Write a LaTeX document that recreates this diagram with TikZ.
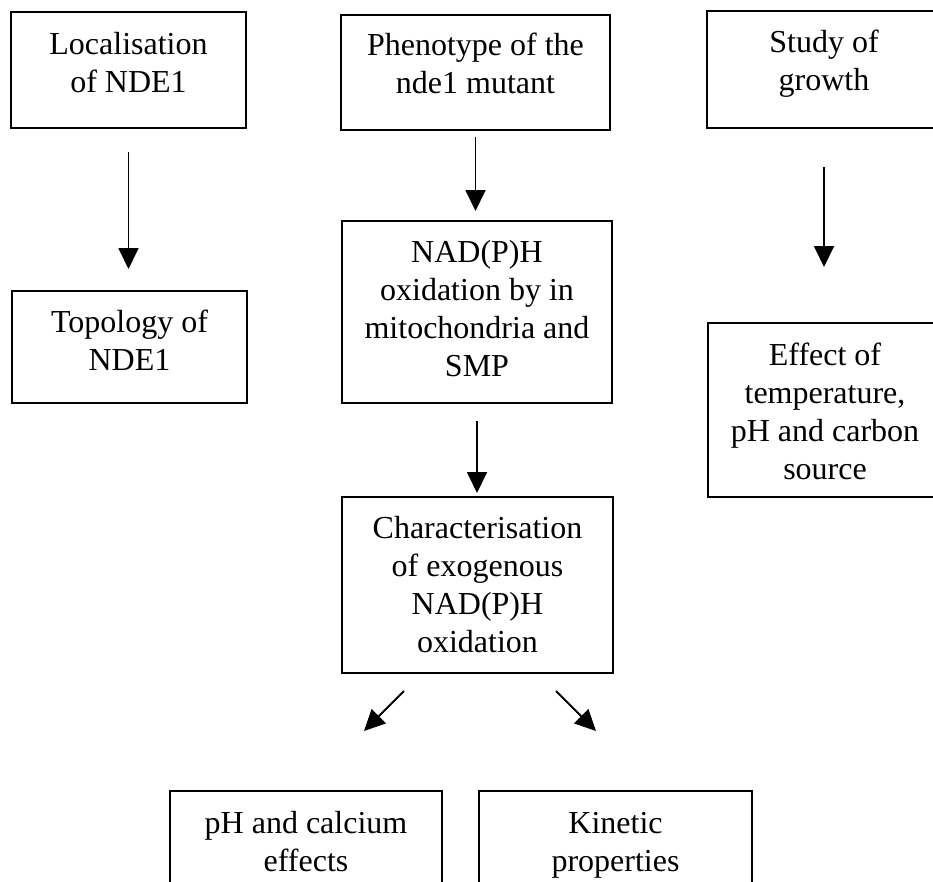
\documentclass[tikz,border=0pt]{standalone}
\usepackage{fontspec}
\setmainfont{Liberation Serif}
\usetikzlibrary{arrows.meta}
\tikzset{
  boxsty/.style={draw=black, line width=1.8pt, inner sep=0pt, outer sep=0pt},
  txt/.style={font=\fontsize{32}{38}\selectfont, align=center, anchor=north,
    inner sep=0pt, text=black},
  flow/.style={line width=1.8pt, -{Triangle[width=20pt,length=21pt]}},
}
\begin{document}
\begin{tikzpicture}[x=1pt, y=-1pt]
  \useasboundingbox (0,0) rectangle (933,881);
  \clip (0,0) rectangle (933,881);
  \fill[white] (0,0) rectangle (933,881);

  % boxes
  \node[boxsty, minimum width=235pt, minimum height=116pt] (loc)   at (128.5,70)  {};
  \node[boxsty, minimum width=235pt, minimum height=112pt] (topo)  at (129.5,347) {};
  \node[boxsty, minimum width=269pt, minimum height=115pt] (pheno) at (475.5,72.5) {};
  \node[boxsty, minimum width=270pt, minimum height=182pt] (oxid)  at (477,312)   {};
  \node[boxsty, minimum width=271pt, minimum height=176pt] (char)  at (477.5,585) {};
  \node[boxsty, minimum width=234pt, minimum height=117pt] (study) at (824,69.5)  {};
  \node[boxsty, minimum width=234pt, minimum height=174pt] (effect) at (825,410)  {};
  \node[boxsty, minimum width=272pt, minimum height=129pt] (phca)  at (306,855.5) {};
  \node[boxsty, minimum width=273pt, minimum height=129pt] (kin)   at (615.5,855.5) {};

  % texts
  \node[txt] (locT)    at (128.5,27.4)  {\strut Localisation\\of NDE1};
  \node[txt] (topoT)   at (129.5,305.4) {\strut Topology of\\NDE1};
  \node[txt] (phenoT)  at (475.5,28.4)  {\strut Phenotype of the\\nde1 mutant};
  \node[txt] (oxidT)   at (477,235.4)   {\strut NAD(P)H\\oxidation by in\\mitochondria and\\SMP};
  \node[txt] (charT)   at (477.5,511.4) {\strut Characterisation\\of exogenous\\NAD(P)H\\oxidation};
  \node[txt] (studyT)  at (824,25.4)    {\strut Study of\\growth};
  \node[txt] (effectT) at (825,338.4)   {\strut Effect of\\temperature,\\pH and carbon\\source};
  \node[txt] (phcaT)   at (306,806.4)   {\strut pH and calcium\\effects};
  \node[txt] (kinT)    at (615.5,806.4) {\strut Kinetic\\properties};

  % connectors
  \draw[flow, shorten <=24pt, shorten >=22pt] (loc.south) -- (loc.south |- topo.north);
  \draw[flow, shorten <=7pt, shorten >=10pt] (pheno.south) -- (pheno.south |- oxid.north);
  \draw[flow, shorten <=18pt, shorten >=4pt] (oxid.south) -- (oxid.south |- char.north);
  \draw[flow, shorten <=39pt, shorten >=56pt] (study.south) -- (study.south |- effect.north);

  \coordinate (splitL) at (404,691);
  \coordinate (endL)   at (364,731);
  \coordinate (splitR) at (556,691);
  \coordinate (endR)   at (596,731);
  \draw[flow] (splitL) -- (endL);
  \draw[flow] (splitR) -- (endR);
\end{tikzpicture}
\end{document}
